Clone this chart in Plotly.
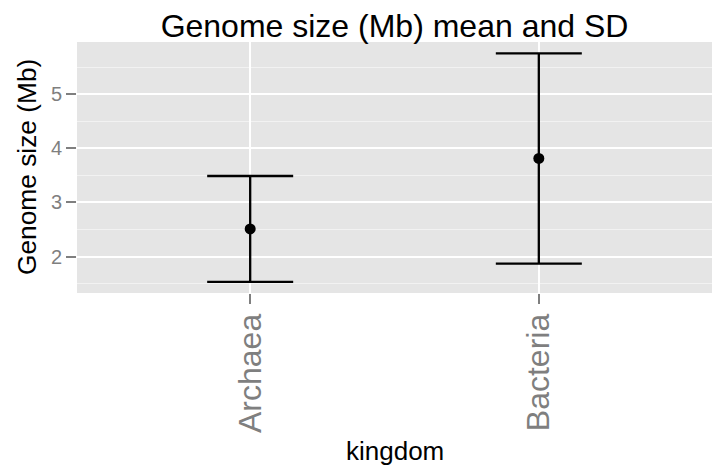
import plotly.graph_objects as go

# genome size summary per kingdom (Mb)
kingdom = ["Archaea", "Bacteria"]
mean_size = [2.51, 3.815]
sd_size = [0.98, 1.945]

font_family = "Liberation Sans, Arial, Helvetica, sans-serif"
grey50 = "#7F7F7F"

W, H = 722, 470

fig = go.Figure()
fig.add_trace(go.Scatter(
    x=kingdom,
    y=mean_size,
    mode="markers",
    marker=dict(color="black", size=11),
    error_y=dict(type="data", array=sd_size, visible=True,
                 color="black", thickness=2.3, width=43),
    showlegend=False,
))

fig.update_layout(
    width=W,
    height=H,
    margin=dict(l=77, r=10, t=42, b=177, autoexpand=False),
    paper_bgcolor="white",
    plot_bgcolor="#E5E5E5",
    font=dict(family=font_family, color="black"),
    title=dict(
        text="Genome size (Mb) mean and SD",
        font=dict(size=32, color="black"),
        x=0.5, xref="paper", xanchor="center",
        y=(H - 26) / H, yref="container", yanchor="middle",
        automargin=False,
    ),
    xaxis=dict(
        type="category",
        range=[-0.6, 1.6],
        automargin=False,
        showgrid=True, gridcolor="white", gridwidth=2,
        zeroline=False, showline=False,
        ticks="outside", ticklen=10, tickwidth=2, tickcolor=grey50,
        tickangle=-90,
        ticklabelstandoff=-3,
        tickfont=dict(size=32, color=grey50),
    ),
    yaxis=dict(
        range=[1.325, 5.97],
        automargin=False,
        tick0=0, dtick=1,
        showgrid=True, gridcolor="white", gridwidth=2,
        minor=dict(tick0=0, dtick=0.5, showgrid=True, gridcolor="#F2F2F2", gridwidth=1),
        zeroline=False, showline=False,
        ticks="outside", ticklen=10, tickwidth=2, tickcolor=grey50,
        tickfont=dict(size=20, color=grey50),
    ),
    annotations=[
        dict(text="kingdom", xref="paper", yref="paper", x=0.5, y=-(451 - 293) / 251,
             xanchor="center", yanchor="middle", showarrow=False,
             font=dict(size=26, color="black")),
        dict(text="Genome size (Mb)", xref="paper", yref="paper", x=-(77 - 27) / 635,
             y=(293 - 167) / 251, xanchor="center", yanchor="middle", textangle=-90,
             showarrow=False, font=dict(size=26.3, color="black")),
    ],
)

# drop the default body margin so the figure fills the window exactly
fig.write_html("out.html", config={"displayModeBar": False},
               post_script="document.body.style.margin = '0';")
